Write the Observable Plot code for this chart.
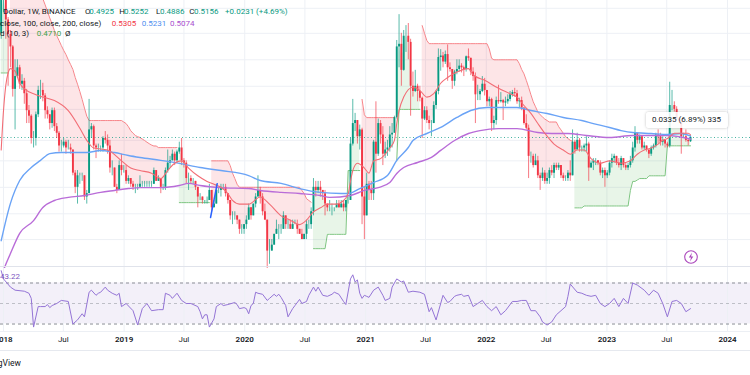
<!DOCTYPE html>
<html><head><meta charset="utf-8">
<script src="https://cdn.jsdelivr.net/npm/d3@7"></script>
<script src="https://cdn.jsdelivr.net/npm/@observablehq/plot@0.6"></script>
<style>
body{margin:0;background:#fff;font-family:Roboto,"Liberation Sans",sans-serif}
#wrap{position:relative;width:750px;height:375px;overflow:hidden;background:#fff}
#wrap svg{position:absolute;left:0}
.lg{position:absolute;font-size:8px;line-height:10px;white-space:nowrap;color:#131722}
</style></head><body><div id="wrap"></div>
<script>
// ---- weekly candles, XRP / U.S. Dollar, BINANCE, week -1 = 2017-12-25 ... week 297 = 2023-09-11
const firstWeek = -1;
const firstOpen = 1.6;
const closes = [
2.3,2.35,1.85,1.58,1.38, 0.87,1.0,1.1,0.92,0.95, 0.83,0.69,0.65,0.51,0.51, 0.66,0.86,0.86,0.81,0.69, 0.66,0.6,0.69,0.58,0.54, 0.47,0.47,0.49,0.46,0.46, 0.45,0.35,0.3,0.34,0.34, 0.34,0.27,0.28,0.56,0.58, 0.47,0.46,0.46,0.46,0.51, 0.5,0.47,0.37,0.37,0.3, 0.29,0.38,0.36,
0.36,0.32,0.33,0.31,0.3, 0.3,0.3,0.31,0.31,0.31, 0.31,0.31,0.31,0.36,0.32, 0.33,0.3,0.3,0.36,0.39, 0.4,0.43,0.4,0.44,0.46, 0.4,0.39,0.33,0.33,0.32, 0.32,0.3,0.27,0.27,0.26, 0.26,0.26,0.29,0.24,0.25, 0.29,0.29,0.3,0.3,0.28, 0.26,0.22,0.22,0.22,0.21, 0.19,0.19,
0.2,0.21,0.24,0.22,0.25, 0.27,0.29,0.27,0.23,0.21, 0.15,0.15,0.16,0.18,0.19, 0.19,0.19,0.22,0.2,0.2, 0.19,0.2,0.2,0.19,0.18, 0.17,0.18,0.2,0.2,0.23, 0.3,0.29,0.3,0.29,0.28, 0.25,0.24,0.24,0.24,0.24, 0.25,0.24,0.25,0.24,0.26, 0.26,0.48,0.6,0.62,0.52, 0.56,0.27,
0.22,0.31,0.29,0.28,0.49, 0.43,0.6,0.53,0.43,0.45, 0.46,0.53,0.54,0.64,1.38, 1.42,1.07,1.55,1.55,1.45, 0.9,0.85,0.9,0.85,0.79, 0.63,0.69,0.62,0.6,0.6, 0.73,0.85,1.23,1.25,1.17, 1.27,1.1,1.08,0.95,1.05, 1.08,1.12,1.1,1.08,1.24, 1.22,1.05,1.0,0.82,0.82, 0.85,0.92,0.86,
0.76,0.78,0.6,0.62,0.77, 0.76,0.77,0.75,0.76,0.78, 0.82,0.84,0.83,0.76,0.77, 0.71,0.6,0.57,0.42,0.42, 0.38,0.4,0.34,0.33,0.35, 0.32,0.33,0.36,0.35,0.38, 0.37,0.38,0.34,0.33,0.33, 0.35,0.34,0.49,0.45,0.5, 0.46,0.46,0.47,0.48,0.37, 0.39,0.4,0.4,0.39,0.35, 0.36,0.34,
0.35,0.39,0.41,0.42,0.39, 0.38,0.41,0.38,0.37,0.38, 0.4,0.46,0.54,0.5,0.52, 0.46,0.47,0.45,0.43,0.46, 0.47,0.53,0.52,0.49,0.5, 0.48,0.47,0.73,0.73,0.7, 0.63,0.62,0.52,0.52,0.5, 0.4925,0.5156
];
const highs = [
2.45,3.3,2.4,1.9,1.65, 1.4,1.2,1.2,1.13,1.02, 0.98,0.87,0.73,0.66,0.55, 0.68,0.9,0.96,0.93,0.83, 0.72,0.66,0.71,0.71,0.6, 0.55,0.5,0.51,0.5,0.5, 0.48,0.45,0.36,0.36,0.35, 0.35,0.34,0.29,0.78,0.6, 0.59,0.48,0.48,0.47,0.52, 0.55,0.53,0.5,0.4,0.37, 0.31,0.4,0.43,
0.38,0.38,0.34,0.33,0.32, 0.31,0.31,0.34,0.32,0.32, 0.32,0.32,0.32,0.37,0.36, 0.34,0.33,0.31,0.37,0.45, 0.42,0.45,0.44,0.45,0.49, 0.51,0.41,0.4,0.35,0.34, 0.33,0.32,0.3,0.28,0.27, 0.26,0.27,0.31,0.29,0.26, 0.31,0.3,0.31,0.31,0.31, 0.28,0.26,0.23,0.23,0.22, 0.21,0.2,
0.2,0.22,0.25,0.24,0.25, 0.28,0.34,0.3,0.28,0.25, 0.21,0.17,0.17,0.18,0.21, 0.2,0.2,0.23,0.22,0.21, 0.21,0.21,0.21,0.21,0.19, 0.19,0.18,0.21,0.21,0.24, 0.33,0.32,0.32,0.32,0.29, 0.29,0.25,0.26,0.25,0.24, 0.26,0.26,0.26,0.26,0.26, 0.27,0.51,0.78,0.67,0.62, 0.59,0.57,
0.3,0.35,0.32,0.32,0.5, 0.76,0.63,0.62,0.58,0.49, 0.5,0.58,0.6,0.65,1.48, 1.96,1.6,1.65,1.74,1.78, 1.5,1.05,1.07,0.92,0.9, 0.8,0.72,0.72,0.65,0.62, 0.76,0.86,1.35,1.34,1.3, 1.32,1.41,1.16,1.08,1.07, 1.2,1.2,1.15,1.12,1.25, 1.35,1.22,1.1,1.04,0.91, 0.87,1.0,0.98,
0.86,0.8,0.79,0.65,0.8, 0.91,0.84,0.78,0.8,0.82, 0.85,0.86,0.88,0.86,0.79, 0.8,0.71,0.66,0.59,0.44, 0.43,0.43,0.42,0.35,0.37, 0.36,0.35,0.37,0.38,0.39, 0.39,0.39,0.38,0.35,0.34, 0.36,0.4,0.56,0.5,0.54, 0.51,0.47,0.48,0.52,0.49, 0.4,0.41,0.41,0.4,0.4, 0.37,0.37,
0.36,0.4,0.43,0.43,0.42, 0.41,0.42,0.41,0.39,0.39, 0.42,0.49,0.58,0.54,0.53, 0.52,0.49,0.47,0.45,0.47, 0.48,0.54,0.56,0.54,0.52, 0.5,0.49,0.94,0.86,0.76, 0.72,0.64,0.63,0.54,0.56, 0.51,0.5252
];
const lows = [
1.5,2.0,1.5,0.9,1.1, 0.8,0.56,0.98,0.87,0.86, 0.74,0.6,0.6,0.48,0.46, 0.47,0.64,0.78,0.76,0.63, 0.63,0.56,0.57,0.55,0.51, 0.44,0.44,0.46,0.43,0.45, 0.43,0.34,0.28,0.25,0.31, 0.32,0.26,0.25,0.28,0.51, 0.45,0.41,0.44,0.44,0.44, 0.48,0.43,0.35,0.34,0.3, 0.28,0.29,0.34,
0.35,0.31,0.31,0.3,0.29, 0.28,0.29,0.3,0.3,0.3, 0.3,0.3,0.3,0.31,0.32, 0.32,0.28,0.29,0.29,0.35, 0.37,0.4,0.38,0.39,0.43, 0.38,0.37,0.31,0.29,0.31, 0.31,0.29,0.24,0.26,0.25, 0.25,0.25,0.26,0.23,0.24, 0.25,0.28,0.27,0.29,0.27, 0.25,0.21,0.2,0.21,0.2, 0.18,0.18,
0.18,0.19,0.21,0.21,0.22, 0.24,0.27,0.25,0.22,0.21, 0.11,0.13,0.15,0.16,0.18, 0.17,0.18,0.19,0.19,0.19, 0.19,0.19,0.2,0.18,0.18, 0.17,0.17,0.17,0.19,0.19, 0.22,0.27,0.28,0.27,0.26, 0.22,0.23,0.23,0.22,0.23, 0.24,0.24,0.24,0.23,0.23, 0.25,0.26,0.47,0.55,0.48, 0.45,0.2,
0.17,0.22,0.26,0.26,0.26, 0.35,0.42,0.48,0.38,0.41, 0.42,0.44,0.46,0.54,0.63, 1.1,0.9,1.06,1.3,1.2, 0.65,0.8,0.84,0.76,0.76, 0.51,0.62,0.6,0.56,0.52, 0.6,0.7,0.82,1.06,1.1, 1.14,0.95,1.05,0.87,0.9, 1.02,1.05,1.04,1.0,1.05, 1.18,1.01,0.95,0.6,0.77, 0.77,0.84,0.81,
0.72,0.72,0.55,0.56,0.59, 0.74,0.75,0.62,0.72,0.74, 0.76,0.8,0.8,0.74,0.71, 0.69,0.59,0.56,0.33,0.39, 0.37,0.38,0.33,0.29,0.32, 0.31,0.31,0.31,0.34,0.33, 0.36,0.36,0.33,0.32,0.32, 0.32,0.32,0.34,0.43,0.45, 0.44,0.44,0.44,0.44,0.32, 0.37,0.36,0.38,0.38,0.34, 0.33,0.3,
0.33,0.34,0.37,0.39,0.38, 0.37,0.36,0.37,0.36,0.36, 0.37,0.39,0.44,0.48,0.48, 0.45,0.45,0.44,0.41,0.42, 0.45,0.46,0.48,0.47,0.47, 0.46,0.46,0.46,0.69,0.68, 0.62,0.6,0.43,0.51,0.49, 0.47,0.4886
];
// ---- Supertrend (10, 3), one value per week, and the weeks when it was in an up trend
const supertrend = [
1.04,1.04,1.04,1.04,
2.9,2.9,2.8,2.7,2.7,2.6,2.55,2.5,2.45,2.4,2.4,2.38,2.36,2.33,2.33,
2.18,2.03,1.89,1.77,1.65,1.56,1.48,1.40,1.33,1.27,1.20,1.14,1.08,0.99,0.92,0.85,0.78,0.71,0.65,
0.62,0.62,0.62,0.62,0.62,0.62,0.62,0.62,0.62,0.62,0.62,0.62,0.62,0.62,0.62,
0.61,0.6,0.58,0.555,0.54,0.527,0.52,0.5156,0.507,0.499,0.49,0.482,0.475,0.47,0.47,
0.462,0.462,0.462,0.462,0.462,0.462,0.462,0.462,0.462,
0.254,0.254,0.254,0.254,0.254,0.254,0.254,0.254,0.254,0.254,0.254,0.254,0.254,0.254,
0.4,0.4,0.4,0.4,0.4,0.4,0.4,0.4,
0.38,0.35,0.33,0.31,
0.3,0.3,0.3,0.3,0.3,0.3,0.3,0.3,0.3,0.3,0.3,0.3,0.3,0.3,0.3,0.3,0.3,0.3,0.3,0.3,0.3,0.3,0.3,0.3,0.3,0.3,0.3,
0.29,0.28,0.265,0.26,0.255,
0.154,0.154,0.154,0.154,0.154,0.154,
0.18,0.18,0.18,0.18,0.18,0.18,0.18,0.18,0.18,
0.36,0.36,0.36,0.36,0.36,0.36,
0.78,0.66,
0.64,0.64,0.64,0.64,0.64,0.64,0.64,0.64,0.64,0.64,0.64,0.64,0.64,
0.4,
0.7,0.7,0.7,0.7,0.7,0.7,0.7,0.7,0.7,0.7,
1.74,1.6,1.48,
1.43,1.43,1.43,1.43,1.43,1.43,1.43,1.43,1.43,1.43,1.43,1.43,1.43,1.43,1.43,1.43,1.43,1.43,1.43,1.43,1.43,1.43,1.43,1.43,1.43,1.43,
1.35,1.22,
1.2,1.2,1.2,1.2,1.2,1.2,1.2,1.2,1.2,1.2,1.2,
1.15,1.08,1.03,0.96,0.89,0.82,0.76,0.72,0.68,0.66,0.645,0.63,0.62,
0.61,0.61,0.61,0.61,
0.58,0.56,0.54,0.52,0.51,0.5,0.495,
0.24,0.24,0.24,0.24,
0.245,0.245,0.245,0.245,0.245,0.245,0.245,0.245,0.245,0.245,0.245,0.245,0.245,0.245,0.245,0.245,0.245,0.245,0.245,0.245,
0.29,0.32,0.32,0.325,0.33,0.33,0.33,0.33,
0.34,0.34,0.34,0.34,0.34,0.34,0.34,0.34,
0.471,0.471,0.471,0.471,0.471,0.471,0.471,0.471,0.471,0.471,0.471
];
const upTrendWeeks = [[-1,2],[76,89],[134,154],[170,180],[247,297]];
// ---- moving averages: [week, price]
const maFast = [[-1,.45],[0,.69],[1,.91],[2,1.04],[3,1.09],[5,1.06],[7,.93],[10,.86],[13,.83],[17,.80],[22,.77],[28,.69],[33,.57],[36,.50],[39,.46],[45,.45],[51,.40],[55,.37],[59,.36],[64,.35],[68,.33],[71,.36],[74,.39],[77,.40],[80,.37],[84,.34],[88,.32],[91,.31],[94,.30],[97,.28],[99,.26],[102,.25],[106,.25],[111,.27],[115,.25],[120,.22],[124,.21],[128,.20],[131,.21],[134,.23],[137,.24],[140,.25],[144,.25],[147,.26],[149,.28],[150,.32],[151,.36],[153,.39],[156,.37],[158,.35],[160,.40],[163,.41],[167,.46],[169,.50],[170,.60],[171,.69],[173,.80],[177,.89],[180,.86],[183,.80],[186,.83],[189,.93],[192,.99],[196,1.05],[201,1.09],[203,1.02],[208,.96],[214,.88],[219,.83],[222,.80],[225,.73],[228,.67],[231,.60],[234,.54],[238,.48],[242,.45],[245,.43],[248,.45],[251,.45],[254,.41],[258,.39],[262,.40],[267,.39],[271,.40],[274,.43],[277,.45],[280,.46],[283,.48],[285,.50],[287,.51],[290,.54],[293,.54],[296,.54],[297,.5305]];
const ma100 = [[-1,.168],[3,.252],[7,.323],[12,.372],[16,.402],[20,.433],[25,.438],[30,.438],[36,.438],[42,.448],[48,.438],[54,.424],[59,.415],[68,.402],[76,.389],[85,.372],[94,.360],[106,.341],[111,.323],[120,.313],[128,.296],[137,.284],[146,.2805],[149,.2805],[154,.296],[160,.316],[166,.341],[170,.402],[175,.4625],[177,.499],[183,.5385],[189,.575],[196,.641],[202,.6915],[209,.714],[222,.714],[228,.6915],[235,.669],[242,.641],[250,.620],[255,.600],[262,.575],[267,.556],[272,.544],[280,.5385],[287,.533],[293,.5385],[297,.5231]];
const ma200 = [[-1,.112],[0,.1215],[3,.146],[7,.182],[13,.209],[17,.241],[22,.260],[28,.269],[35,.2745],[42,.284],[48,.290],[54,.296],[59,.299],[68,.299],[76,.306],[80,.313],[85,.306],[94,.299],[106,.296],[111,.290],[120,.284],[128,.2805],[137,.2745],[141,.269],[150,.2745],[156,.290],[162,.299],[167,.316],[170,.349],[173,.372],[179,.393],[185,.415],[189,.448],[195,.499],[201,.5385],[206,.556],[214,.568],[222,.568],[231,.544],[237,.5385],[244,.5385],[252,.527],[262,.5156],[272,.527],[287,.527],[297,.5074]];
// ---- RSI: [week, value]
const rsi = [[-1,82],[0,74],[3,66],[5,63],[9,62],[11,60],[12,55],[13,27],[15,47],[16,47],[18,47],[19,49],[20,46],[21,48],[23,50],[25,53],[28,52],[30,30],[32,34],[34,40],[35,37],[37,61],[38,63],[40,58],[41,60],[42,61],[44,66],[45,63],[47,60],[49,58],[50,60],[51,47],[53,50],[56,43],[58,29],[60,45],[62,50],[64,43],[67,44],[69,44],[70,60],[72,58],[73,55],[75,60],[77,53],[79,50],[81,50],[84,47],
[85,42],[86,35],[87,39],[88,39],[89,27],[91,35],[92,47],[94,50],[95,48],[97,49],[100,51],[101,49],[102,45],[104,46],[105,45],[106,40],[107,48],[108,50],[109,61],[110,60],[112,59],[114,53],[115,55],[117,59],[118,57],[119,59],[120,56],[122,48],[123,37],[125,45],[126,48],[128,54],[129,50],[131,52],[132,58],[134,66],[135,62],[136,66],[138,58],[140,57],[142,59],[143,61],[145,59],[147,52],[148,49],[150,74],[151,78],[152,71],[153,73],[154,60],[155,55],[156,58],[157,57],[158,56],[160,63],[162,66],[164,58],[165,53],[167,55],[168,66],[170,74],[172,71],[173,72],[175,61],[177,62],[180,61],[182,59],[184,42],[185,46],[187,34],[190,58],[192,51],[193,52],[195,57],[196,58],[198,59],
[199,57],[201,58],[203,47],[205,50],[207,53],[209,47],[211,43],[213,47],[215,39],[217,43],[220,52],[222,52],[224,53],[226,53],[228,43],[230,43],[232,37],[233,32],[235,29],[237,32],[239,39],[241,43],[243,47],[244,57],[245,69],[248,61],[250,60],[252,58],[254,57],[256,58],[258,50],[260,47],[262,50],[264,55],[266,47],[268,55],[270,50],[272,70],[274,68],[277,63],[279,58],[281,63],[283,60],[285,50],[287,37],[289,52],[291,53],[293,50],[295,42],[297,45]];
// user-drawn trend line [week, price]
const drawnLine = [[89.5,0.2161],[92.4,0.312]];
// axes
const tickDates = ["2018-01-01","2018-07-01","2019-01-01","2019-07-01","2020-01-01","2020-07-01","2021-01-01","2021-07-01","2022-01-01","2022-07-01","2023-01-01","2023-07-01","2024-01-01"];
const tickLabels = ["2018","Jul","2019","Jul","2020","Jul","2021","Jul","2022","Jul","2023","Jul","2024"];
const gridPrices = [2.1,1.6,1.2,0.9,0.7,0.5,0.4,0.3,0.225,0.17];
const lastClose = 0.5156;

// ---- build
const up = "#089981", down = "#f23645";
const gridColor = "#edf0f5";
const weekZero = Date.UTC(2018,0,1), DAY = 864e5;
const weekToDate = w => new Date(weekZero + w*7*DAY);
const xDomain = [new Date(Date.UTC(2017,11,22,22)), new Date(Date.UTC(2024,2,10,12))];
const ticks = tickDates.map((d,i)=>({date:new Date(d+"T00:00:00Z"), label:tickLabels[i], year:tickLabels[i]!=="Jul"}));

const candles = closes.map((c,k)=>({date:weekToDate(firstWeek+k), open:k?closes[k-1]:firstOpen, close:c, high:highs[k], low:lows[k]}));
candles.forEach(d=>d.col = d.close>=d.open?up:down);
const isUp = w => upTrendWeeks.some(([a,b])=>w>=a&&w<=b);
let seg=0, prev=null;
const stRows = supertrend.map((v,k)=>{
  const w=firstWeek+k, u=isUp(w);
  if(prev!==null && u!==prev) seg++;
  prev=u;
  const c=candles[k];
  return {date:c.date, st:v, mid:(c.open+c.close)/2, up:u, seg};
});
const toRows = arr => arr.map(([w,v])=>({date:weekToDate(w), v}));

const main = Plot.plot({
  width:750, height:268, margin:0,
  style:{fontFamily:"Roboto", background:"transparent"},
  x:{type:"utc", domain:xDomain, axis:null},
  y:{type:"log", domain:[0.12414,2.2859], axis:null},
  color:{type:"identity"},
  marks:[
    Plot.ruleY(gridPrices,{stroke:gridColor}),
    Plot.ruleX(ticks,{x:"date", stroke:gridColor}),
    Plot.areaY(stRows,{x:"date", y1:"st", y2:"mid", z:"seg", fill:d=>d.up?"rgba(76,175,80,0.13)":"rgba(242,54,69,0.13)", clip:true}),
    Plot.line(stRows,{x:"date", y:"st", z:"seg", stroke:d=>d.up?"#7cc47f":"#f7868b", strokeWidth:1, clip:true}),
    Plot.ruleY([lastClose],{stroke:up, strokeDasharray:"1,2.5", strokeWidth:1, strokeOpacity:0.75}),
    Plot.ruleX(candles,{x:"date", y1:"low", y2:"high", stroke:"col", strokeWidth:0.9, strokeOpacity:0.75, clip:true}),
    Plot.ruleX(candles,{x:"date", y1:"open", y2:"close", stroke:"col", strokeWidth:1.9, clip:true}),
    Plot.line(toRows(ma200),{x:"date", y:"v", stroke:"#b96cd8", strokeWidth:1.4, curve:"monotone-x", clip:true}),
    Plot.line(toRows(ma100),{x:"date", y:"v", stroke:"#6aa3f6", strokeWidth:1.4, curve:"monotone-x", clip:true}),
    Plot.line(toRows(maFast),{x:"date", y:"v", stroke:"#f26d75", strokeWidth:1.1, curve:"monotone-x", clip:true}),
    Plot.line(toRows(drawnLine),{x:"date", y:"v", stroke:"#2962ff", strokeWidth:1.5})
  ]
});
main.style.top="0px";

const lower = Plot.plot({
  width:750, height:107, marginTop:0, marginBottom:44, marginLeft:0, marginRight:0,
  style:{fontFamily:"Roboto", background:"transparent"},
  x:{type:"utc", domain:xDomain, axis:null},
  y:{domain:[22.7,84.15], axis:null},
  marks:[
    Plot.rect([0],{y1:30, y2:70, fill:"#7e57c2", fillOpacity:0.09}),
    Plot.ruleX(ticks,{x:"date", stroke:gridColor}),
    Plot.ruleY([70,30],{stroke:"#8a8d96", strokeDasharray:"3,3", strokeWidth:1}),
    Plot.ruleY([50],{stroke:"#8a8d96", strokeOpacity:0.5, strokeDasharray:"3,3"}),
    Plot.line(toRows(rsi),{x:"date", y:"v", stroke:"#9474d6", strokeWidth:1}),
    Plot.text(ticks.filter(d=>d.year),{x:"date", text:"label", frameAnchor:"bottom", dy:10, fontSize:8, fontWeight:600, fill:"#131722"}),
    Plot.text(ticks.filter(d=>!d.year),{x:"date", text:"label", frameAnchor:"bottom", dy:10, fontSize:8, fill:"#131722"})
  ]
});
lower.style.top="268px";

const wrap=document.getElementById("wrap");
wrap.append(main, lower);

function addDiv(html, css){const d=document.createElement("div"); d.innerHTML=html; d.style.cssText=css; wrap.append(d); return d;}
addDiv("", "position:absolute;left:0;top:266px;width:750px;height:1px;background:#e0e3eb");
addDiv("", "position:absolute;left:0;top:331px;width:750px;height:1px;background:#eceff4");
addDiv("", "position:absolute;left:0;top:350px;width:750px;height:1px;background:#e6e9ef");

const legend = [
  ["Dollar, 1W, BINANCE",3.3,7.3,"#131722"],["O",85,7.3,"#131722"],["0.4925",89.3,7.3,up],["H",119.3,7.3,"#131722"],["0.5252",124,7.3,up],
  ["L",156,7.3,"#131722"],["0.4886",160,7.3,up],["C",189.3,7.3,"#131722"],["0.5156",194,7.3,up],["+0.0231 (+4.69%)",225,7.3,up],
  ["close, 100, close, 200, close)",0,19,"#131722"],["0.5305",111.7,19,"#f23645"],["0.5231",141.7,19,"#4f8ff0"],["0.5074",170,19,"#a84fce"],
  ["d (10, 3)",0,29.3,"#131722"],["0.4710",36.7,29.3,"#43a047"],["Ø",65,29.3,"#131722"],
  ["43.22",0,272,"#7e57c2"]
];
legend.forEach(([t,x,y,c])=>{const s=document.createElement("span"); s.className="lg"; s.textContent=t; s.style.left=x+"px"; s.style.top=y+"px"; s.style.color=c; wrap.append(s);});

addDiv("0.0335 (6.89%) 335","position:absolute;left:646px;top:112px;width:82px;height:16px;box-sizing:border-box;padding-left:6px;border-radius:3px;background:rgba(255,255,255,0.88);box-shadow:0 0 3px rgba(0,0,0,0.25);font-size:8px;line-height:16px;color:#131722;white-space:nowrap");
addDiv("TradingView","position:absolute;left:0;top:357px;width:21px;overflow:hidden;direction:rtl;white-space:nowrap;font-size:8.5px;line-height:12px;color:#131722");
addDiv('<svg width="16" height="16" viewBox="0 0 16 16"><circle cx="8" cy="8" r="6.3" fill="#fff" stroke="#ab47bc" stroke-width="1.1"/><path d="M9 3.6 L5.8 8.6 H8 L7 12.4 L10.3 7.4 H8.1 Z" fill="#ab47bc"/></svg>',"position:absolute;left:682.5px;top:249px;width:16px;height:16px");
</script></body></html>
